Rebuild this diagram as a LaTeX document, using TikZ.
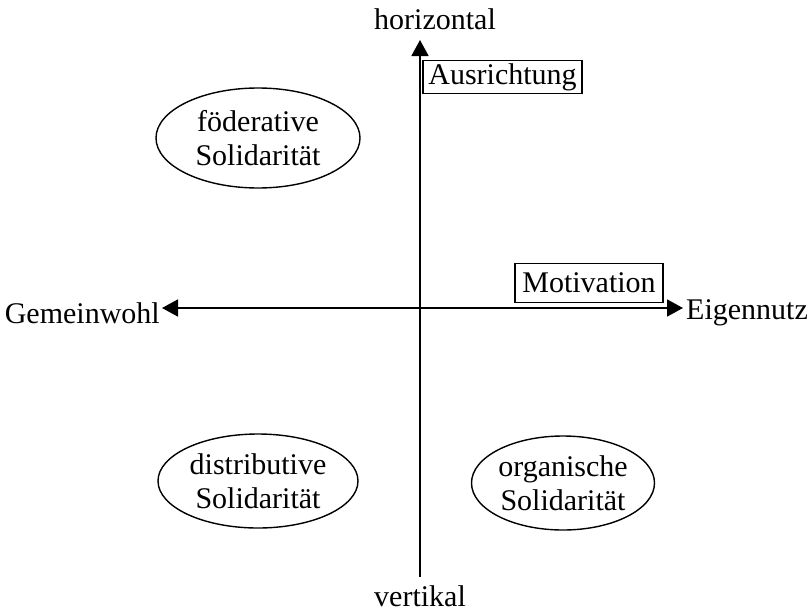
\documentclass[tikz,border=0pt]{standalone}
\usepackage{fontspec}
\setmainfont{Liberation Serif}
\usetikzlibrary{arrows.meta,shapes.geometric}
\begin{document}
\begin{tikzpicture}[x=1pt,y=-1pt,
  every node/.style={font=\fontsize{30}{34}\selectfont, inner sep=0pt},
  axisline/.style={line width=1.8pt, -{Triangle[length=16pt,width=17pt]}},
  ellnode/.style={draw, line width=1.4pt, ellipse, align=center},
  labbox/.style={draw, line width=1.4pt, inner xsep=4pt, inner ysep=3pt, fill=white}]
\useasboundingbox (0,0) rectangle (808,613);
% axis end coordinates
\coordinate (top) at (420,40);
\coordinate (bot) at (420,577);
\coordinate (lft) at (162,308);
\coordinate (rgt) at (683,308);
\coordinate (ctr) at (420,308);
\draw[axisline] (bot) -- (top);
\draw[axisline] (ctr) -- (rgt);
\draw[axisline] (ctr) -- (lft);
% axis labels
\node[anchor=south] (hor) at (435,30) {horizontal};
\node[anchor=north] (ver) at (420,585) {vertikal};
\node[anchor=east] (gem) at (160,313) {Gemeinwohl};
\node[anchor=west] (eig) at (686,313) {Eigennutz};
% boxes
\node[labbox, minimum width=159pt, minimum height=32pt] (aus) at (502.5,77) {Ausrichtung};
\node[labbox, minimum width=148pt, minimum height=39pt] (mot) at (589,283) {Motivation};
% ellipses
\node[ellnode, minimum width=204pt, minimum height=100pt] (fod) at (258,138) {föderative\\Solidarität};
\node[ellnode, minimum width=200pt, minimum height=94pt] (dis) at (258,481) {distributive\\Solidarität};
\node[ellnode, minimum width=164pt, minimum height=94pt] (org) at (563,483) {organische\\Solidarität};
\end{tikzpicture}
\end{document}
